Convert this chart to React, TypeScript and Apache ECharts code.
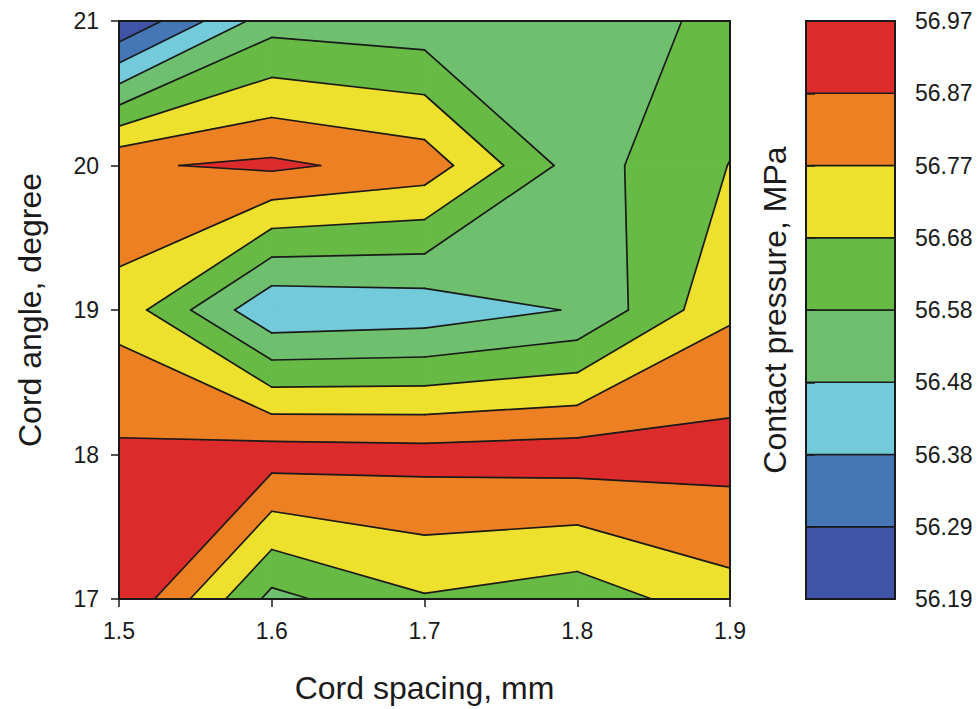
import React, { useEffect, useRef } from "react";
import * as echarts from "echarts";

// ---- data ----
const xValues = [1.5, 1.6, 1.7, 1.8, 1.9]; // Cord spacing, mm
const yValues = [17, 18, 19, 20, 21]; // Cord angle, degree
// Contact pressure (MPa) at each grid node, one row per cord angle
const zAt17 = [56.97, 56.551, 56.668, 56.62, 56.738];
const zAt18 = [56.89, 56.92, 56.91, 56.922, 56.911];
const zAt19 = [56.739, 56.4, 56.421, 56.49, 56.759];
const zAt20 = [56.86, 56.892, 56.831, 56.535, 56.68];
const zAt21 = [56.19, 56.54, 56.5175, 56.515, 56.61];
// contour levels (min..max in 8 steps) and their printed labels
const levelValues = [56.19, 56.2875, 56.385, 56.4825, 56.58, 56.6775, 56.775, 56.8725, 56.97];
const levelLabels = ["56.19", "56.29", "56.38", "56.48", "56.58", "56.68", "56.77", "56.87", "56.97"];
const bandColors = ["#3F54A6", "#4576B6", "#72CADB", "#6EC06E", "#67BB45", "#EDE12D", "#EE8024", "#DD2A2B"];

const FONT = "'Liberation Sans', Arial, Helvetica, sans-serif";
const INK = "#1a1a1a";

type P = [number, number, number];

function interp(a: P, b: P, L: number): P {
  const t = (L - a[2]) / (b[2] - a[2]);
  return [a[0] + t * (b[0] - a[0]), a[1] + t * (b[1] - a[1]), L];
}

function clip(poly: P[], level: number, keepAbove: boolean): P[] {
  const out: P[] = [];
  const inside = (p: P) => (keepAbove ? p[2] >= level : p[2] <= level);
  for (let i = 0; i < poly.length; i++) {
    const a = poly[i];
    const b = poly[(i + 1) % poly.length];
    const ia = inside(a);
    const ib = inside(b);
    if (ia && ib) out.push(b);
    else if (ia && !ib) out.push(interp(a, b, level));
    else if (!ia && ib) {
      out.push(interp(a, b, level));
      out.push(b);
    }
  }
  return out;
}

function buildContours() {
  const z = [zAt17, zAt18, zAt19, zAt20, zAt21];
  const bands: { k: number; pts: number[][] }[] = [];
  const segs: number[][][] = [];
  const nb = bandColors.length;
  for (let j = 0; j < yValues.length - 1; j++) {
    for (let i = 0; i < xValues.length - 1; i++) {
      const cell: P[] = [
        [xValues[i], yValues[j], z[j][i]],
        [xValues[i + 1], yValues[j], z[j][i + 1]],
        [xValues[i + 1], yValues[j + 1], z[j + 1][i + 1]],
        [xValues[i], yValues[j + 1], z[j + 1][i]],
      ];
      for (let k = 0; k < nb; k++) {
        let p = cell;
        if (k > 0) p = clip(p, levelValues[k], true);
        if (k < nb - 1 && p.length) p = clip(p, levelValues[k + 1], false);
        if (p.length >= 3) bands.push({ k, pts: p.map((q) => [q[0], q[1]]) });
      }
      for (let k = 1; k < levelValues.length - 1; k++) {
        const L = levelValues[k];
        const cr: P[] = [];
        for (let e = 0; e < 4; e++) {
          const a = cell[e];
          const b = cell[(e + 1) % 4];
          if ((a[2] - L) * (b[2] - L) < 0) cr.push(interp(a, b, L));
        }
        if (cr.length === 2) {
          segs.push([[cr[0][0], cr[0][1]], [cr[1][0], cr[1][1]]]);
        } else if (cr.length === 4) {
          const avg = (cell[0][2] + cell[1][2] + cell[2][2] + cell[3][2]) / 4;
          const same = avg >= L === cell[0][2] >= L;
          const pairs = same ? [[0, 1], [2, 3]] : [[3, 0], [1, 2]];
          pairs.forEach(([u, v]) => segs.push([[cr[u][0], cr[u][1]], [cr[v][0], cr[v][1]]]));
        }
      }
    }
  }
  return { bands, segs };
}

export default function App() {
  const ref = useRef<HTMLDivElement>(null);
  useEffect(() => {
    if (!ref.current) return;
    const chart = echarts.init(ref.current, undefined, { renderer: "svg" });
    const { bands, segs } = buildContours();

    const axisLine = { show: true, onZero: false, lineStyle: { color: INK, width: 2 } };
    const axisTick = { show: true, length: 8, lineStyle: { color: INK, width: 1.5 } };
    const labelStyle = { fontSize: 23, color: INK, fontFamily: FONT, margin: 20 };
    const nameStyle = { fontSize: 32, color: INK, fontFamily: FONT };

    const option: any = {
      animation: false,
      textStyle: { fontFamily: FONT },
      grid: [
        { left: 119, top: 21, width: 611, height: 578, show: true, borderColor: INK, borderWidth: 2, backgroundColor: "transparent", z: 10 },
        { left: 806, top: 21, width: 89, height: 578, show: true, borderColor: INK, borderWidth: 2, backgroundColor: "transparent", z: 10 },
      ],
      xAxis: [
        {
          type: "value", gridIndex: 0, min: 1.5, max: 1.9, interval: 0.1, z: 10,
          axisLine, axisTick,
          axisLabel: { ...labelStyle, formatter: (v: number) => v.toFixed(1) },
          splitLine: { show: false },
          name: "Cord spacing, mm", nameLocation: "middle", nameGap: 73, nameTextStyle: nameStyle,
        },
        { type: "value", gridIndex: 1, min: 0, max: 1, show: false },
      ],
      yAxis: [
        {
          type: "value", gridIndex: 0, min: 17, max: 21, interval: 1, z: 10,
          axisLine, axisTick,
          axisLabel: { ...labelStyle },
          splitLine: { show: false },
          name: "Cord angle, degree", nameLocation: "middle", nameGap: 73, nameTextStyle: nameStyle,
        },
        {
          type: "value", gridIndex: 1, min: 0, max: 8, interval: 1, position: "right", z: 10,
          axisLine: { show: true, lineStyle: { color: INK, width: 2 } },
          axisTick: { show: true, length: 9, lineStyle: { color: INK, width: 1.5 } },
          axisLabel: { ...labelStyle, formatter: (v: number) => levelLabels[Math.round(v)] },
          splitLine: { show: false },
        },
        {
          type: "value", gridIndex: 1, min: 0, max: 8, position: "left",
          axisLine: { show: false }, axisTick: { show: false }, axisLabel: { show: false }, splitLine: { show: false },
          name: "Contact pressure, MPa", nameLocation: "middle", nameGap: 15, nameTextStyle: nameStyle,
        },
      ],
      series: [
        {
          type: "custom", xAxisIndex: 0, yAxisIndex: 0, z: 2, silent: true,
          data: bands.map((b, i) => [b.pts[0][0], b.pts[0][1], i]),
          renderItem: (params: any, api: any) => {
            const b = bands[params.dataIndex];
            const c = bandColors[b.k];
            return {
              type: "polygon",
              shape: { points: b.pts.map((p) => api.coord(p)) },
              style: { fill: c, stroke: c, lineWidth: 0.8 },
            };
          },
        },
        {
          type: "custom", xAxisIndex: 0, yAxisIndex: 0, z: 3, silent: true,
          data: segs.map((s, i) => [s[0][0], s[0][1], i]),
          renderItem: (params: any, api: any) => {
            const s = segs[params.dataIndex];
            const a = api.coord(s[0]);
            const b = api.coord(s[1]);
            return {
              type: "line",
              shape: { x1: a[0], y1: a[1], x2: b[0], y2: b[1] },
              style: { stroke: INK, lineWidth: 1.7, lineCap: "round" },
            };
          },
        },
        {
          type: "custom", xAxisIndex: 1, yAxisIndex: 1, z: 2, silent: true,
          data: bandColors.map((c, i) => [0.5, i + 0.5, i]),
          renderItem: (params: any, api: any) => {
            const i = params.dataIndex;
            const p0 = api.coord([0, i + 1]);
            const p1 = api.coord([1, i]);
            return {
              type: "rect",
              shape: { x: p0[0], y: p0[1], width: p1[0] - p0[0], height: p1[1] - p0[1] },
              style: { fill: bandColors[i], stroke: INK, lineWidth: 1.5 },
            };
          },
        },
      ],
    };
    chart.setOption(option);
    return () => chart.dispose();
  }, []);
  return (
    <div
      ref={ref}
      style={{ position: "fixed", left: 0, top: 0, width: 980, height: 709, background: "#fff" }}
    />
  );
}
